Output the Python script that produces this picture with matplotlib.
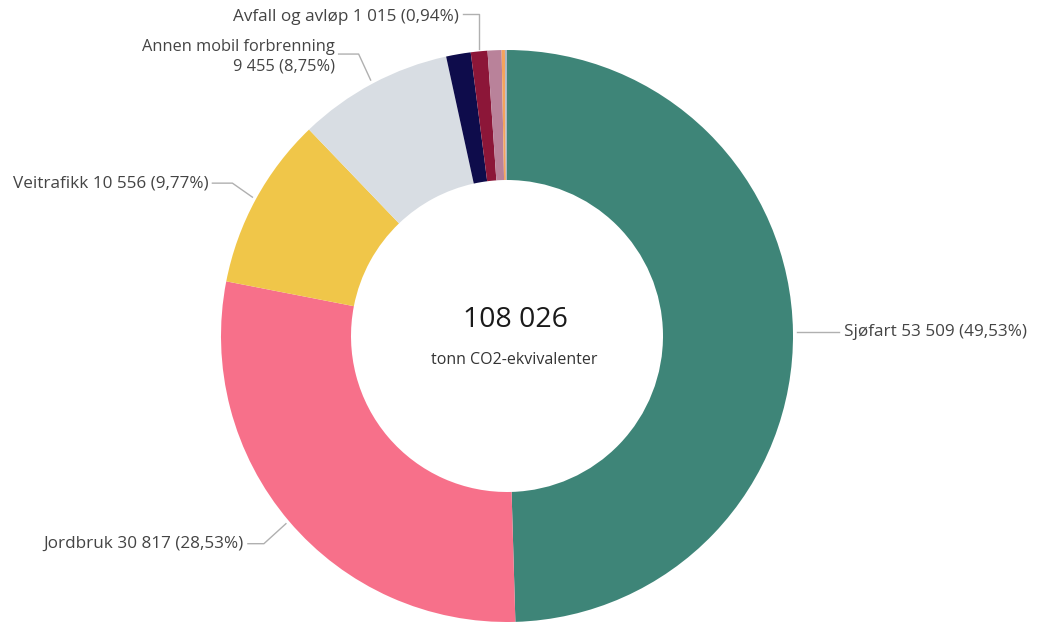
import numpy as np
import matplotlib.pyplot as plt

plt.rcParams['font.family'] = ['Open Sans', 'DejaVu Sans']

# emissions per sector, tonn CO2-ekvivalenter
sectors = ['Sjøfart', 'Jordbruk', 'Veitrafikk', 'Annen mobil forbrenning',
           'Industri', 'Avfall og avløp', 'Oppvarming', 'Energiforsyning', 'Annet']
values = [53509, 30817, 10556, 9455, 1500, 1015, 850, 200, 124]
colors = ['#3e8578', '#f7708a', '#f0c649', '#d8dde3', '#0e0c4b',
          '#8c1638', '#b9829a', '#f4a35c', '#a9b6c4']
total_label = '108 026'
unit_label = 'tonn CO2-ekvivalenter'


def fmt(v):
    return f'{v:,}'.replace(',', ' ')


def pct(v):
    return f'{100 * v / sum(values):.2f}'.replace('.', ',') + '%'


W, H = 1037, 622
fig = plt.figure(figsize=(W / 100, H / 100), dpi=100)
ax = fig.add_axes([0, 0, 1, 1])

cx, cy = 507, H - 336
R = 286
wedges, _ = ax.pie(values, colors=colors, startangle=90, counterclock=False,
                   center=(cx, cy), radius=R, frame=True,
                   wedgeprops=dict(width=130, linewidth=0))
ax.set_xlim(0, W)
ax.set_ylim(0, H)
ax.set_aspect('equal')
ax.axis('off')

ax.text(cx + 8, cy + 16, total_label, ha='center', va='center', fontsize=20.5, color='#1a1a1a')
ax.text(cx + 7, cy - 24, unit_label, ha='center', va='center', fontsize=11.5, color='#333333')


def anchor(i, extra=4):
    w = wedges[i]
    a = np.deg2rad((w.theta1 + w.theta2) / 2)
    return cx + (R + extra) * np.cos(a), cy + (R + extra) * np.sin(a)


line_kw = dict(color='#b0b0b0', lw=1)
txt_kw = dict(fontsize=12.3, color='#444444')

# Sjøfart (right)
x0, y0 = anchor(0)
ax.plot([x0, x0 + 42], [y0, y0], **line_kw)
ax.text(x0 + 47, y0, f'{sectors[0]} {fmt(values[0])} ({pct(values[0])})', ha='left', va='center', **txt_kw)

# Jordbruk (lower left)
x0, y0 = anchor(1)
ex, ey = x0 - 22, y0 - 20
ax.plot([x0, ex, ex - 16], [y0, ey, ey], **line_kw)
ax.text(ex - 20, ey, f'{sectors[1]} {fmt(values[1])} ({pct(values[1])})', ha='right', va='center', **txt_kw)

# Veitrafikk (left)
x0, y0 = anchor(2)
ex, ey = x0 - 20, y0 + 14
ax.plot([x0, ex, ex - 20], [y0, ey, ey], **line_kw)
ax.text(ex - 24, ey, f'{sectors[2]} {fmt(values[2])} ({pct(values[2])})', ha='right', va='center', **txt_kw)

# Annen mobil forbrenning (top left)
x0, y0 = anchor(3)
ex, ey = x0 - 12, y0 + 26
ax.plot([x0, ex, ex - 20], [y0, ey, ey], **line_kw)
ax.text(ex - 24, ey - 3, f'{sectors[3]}\n{fmt(values[3])} ({pct(values[3])})', ha='right', va='center',
        multialignment='right', linespacing=1.3, fontsize=11.8, color='#444444')

# Avfall og avløp (top)
x0, y0 = anchor(5, 2)
ex, ey = x0, H - 14
ax.plot([x0, ex, ex - 16], [y0, ey, ey], **line_kw)
ax.text(ex - 20, ey - 3, f'{sectors[5]} {fmt(values[5])} ({pct(values[5])})', ha='right', va='center', **txt_kw)

fig.savefig('out.png', dpi=100, facecolor='white')
